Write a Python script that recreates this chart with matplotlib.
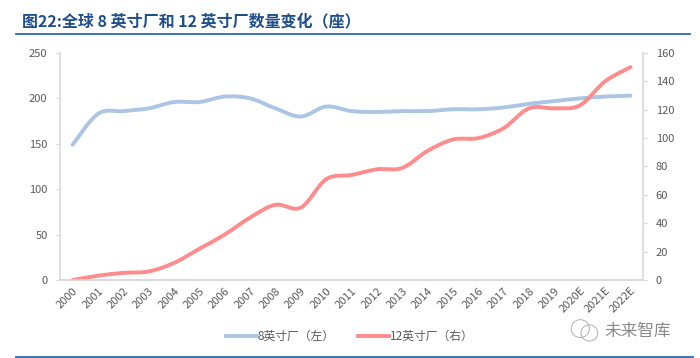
import numpy as np
import matplotlib.pyplot as plt
from matplotlib.path import Path
from matplotlib.patches import PathPatch, Ellipse
from matplotlib.lines import Line2D

plt.rcParams['font.family'] = ['Noto Sans CJK SC', 'DejaVu Sans']

years = ["2000", "2001", "2002", "2003", "2004", "2005", "2006", "2007", "2008",
         "2009", "2010", "2011", "2012", "2013", "2014", "2015", "2016", "2017",
         "2018", "2019", "2020E", "2021E", "2022E"]
fab8 = [149, 183, 186, 189, 196, 196, 202, 200, 189, 180, 191, 186, 185, 186,
        186, 188, 188, 190, 194, 197, 200, 202, 203]
fab12 = [0, 3, 5, 6, 12, 22, 32, 44, 53, 51, 71, 74, 78, 79, 91, 99, 100, 107,
         121, 121, 123, 140, 150]

BLUE = "#abc5e5"
RED = "#ff8c8c"
GRID = "#d9d9d9"
TXT = "#595959"


def smooth_path(x, y):
    # Excel-style smooth line: Catmull-Rom turned into cubic Bezier segments
    x = np.asarray(x, float)
    y = np.asarray(y, float)
    verts = [(x[0], y[0])]
    codes = [Path.MOVETO]
    n = len(x)
    for i in range(n - 1):
        p0 = (x[max(i - 1, 0)], y[max(i - 1, 0)])
        p1 = (x[i], y[i])
        p2 = (x[i + 1], y[i + 1])
        p3 = (x[min(i + 2, n - 1)], y[min(i + 2, n - 1)])
        c1 = (p1[0] + (p2[0] - p0[0]) / 6, p1[1] + (p2[1] - p0[1]) / 6)
        c2 = (p2[0] - (p3[0] - p1[0]) / 6, p2[1] - (p3[1] - p1[1]) / 6)
        verts += [c1, c2, p2]
        codes += [Path.CURVE4] * 3
    return Path(verts, codes)


fig = plt.figure(figsize=(7, 3.58), dpi=100)
ax = fig.add_axes([0.0857, 0.218, 0.833, 0.634])
ax2 = ax.twinx()

xs = np.arange(len(years))
ax.add_patch(PathPatch(smooth_path(xs, fab8), facecolor="none", edgecolor=BLUE,
                       lw=2.8, capstyle="round"))
ax2.add_patch(PathPatch(smooth_path(xs, fab12), facecolor="none", edgecolor=RED,
                        lw=2.8, capstyle="round"))

ax.set_xlim(-0.5, len(years) - 0.5)
ax.set_ylim(0, 250)
ax2.set_ylim(0, 160)
ax.set_yticks(range(0, 251, 50))
ax2.set_yticks(range(0, 161, 20))
ax.set_xticks(xs)
ax.set_xticklabels(years, rotation=45, ha="right", rotation_mode="anchor")

for a in (ax, ax2):
    a.spines["top"].set_visible(False)
    for s in ("left", "right", "bottom"):
        a.spines[s].set_color(GRID)
        a.spines[s].set_linewidth(1.2)
    a.tick_params(colors=TXT, labelsize=8, length=3, width=0.8)
    a.tick_params(axis="both", color=GRID)
ax.spines["right"].set_visible(False)
ax2.spines["left"].set_visible(False)
ax.tick_params(axis="x", length=0, pad=4)
ax.tick_params(axis="y", pad=6)
ax2.tick_params(axis="y", pad=6)

handles = [Line2D([], [], color=BLUE, lw=2.8), Line2D([], [], color=RED, lw=2.8)]
fig.legend(handles, ["8英寸厂（左）", "12英寸厂（右）"], loc="center",
           bbox_to_anchor=(0.5, 0.06), ncol=2, frameon=False, fontsize=8.5,
           labelcolor=TXT, handlelength=2.6, handletextpad=0.1, columnspacing=2.0)

fig.text(0.031, 0.94, "图22:全球 8 英寸厂和 12 英寸厂数量变化（座）", fontsize=11.5,
         fontweight="bold", color="#1f4e8c", va="center")
fig.add_artist(Line2D([0.023, 0.986], [0.904, 0.904], color="#2e6aa8", lw=1.3))
fig.add_artist(Line2D([0.023, 0.99], [0.004, 0.004], color="#2e6aa8", lw=1.3))

# watermark
fig.add_artist(Ellipse((0.829, 0.082), 0.026, 0.05, transform=fig.transFigure,
                       fill=False, ec="#b0b0b0", lw=0.7))
fig.add_artist(Ellipse((0.842, 0.07), 0.024, 0.045, transform=fig.transFigure,
                       fill=False, ec="#b0b0b0", lw=0.7, facecolor="white"))
fig.text(0.958, 0.073, "未来智库", fontsize=12, color="#8a8a8a", ha="right",
         va="center")

fig.savefig("out.png", dpi=100)
